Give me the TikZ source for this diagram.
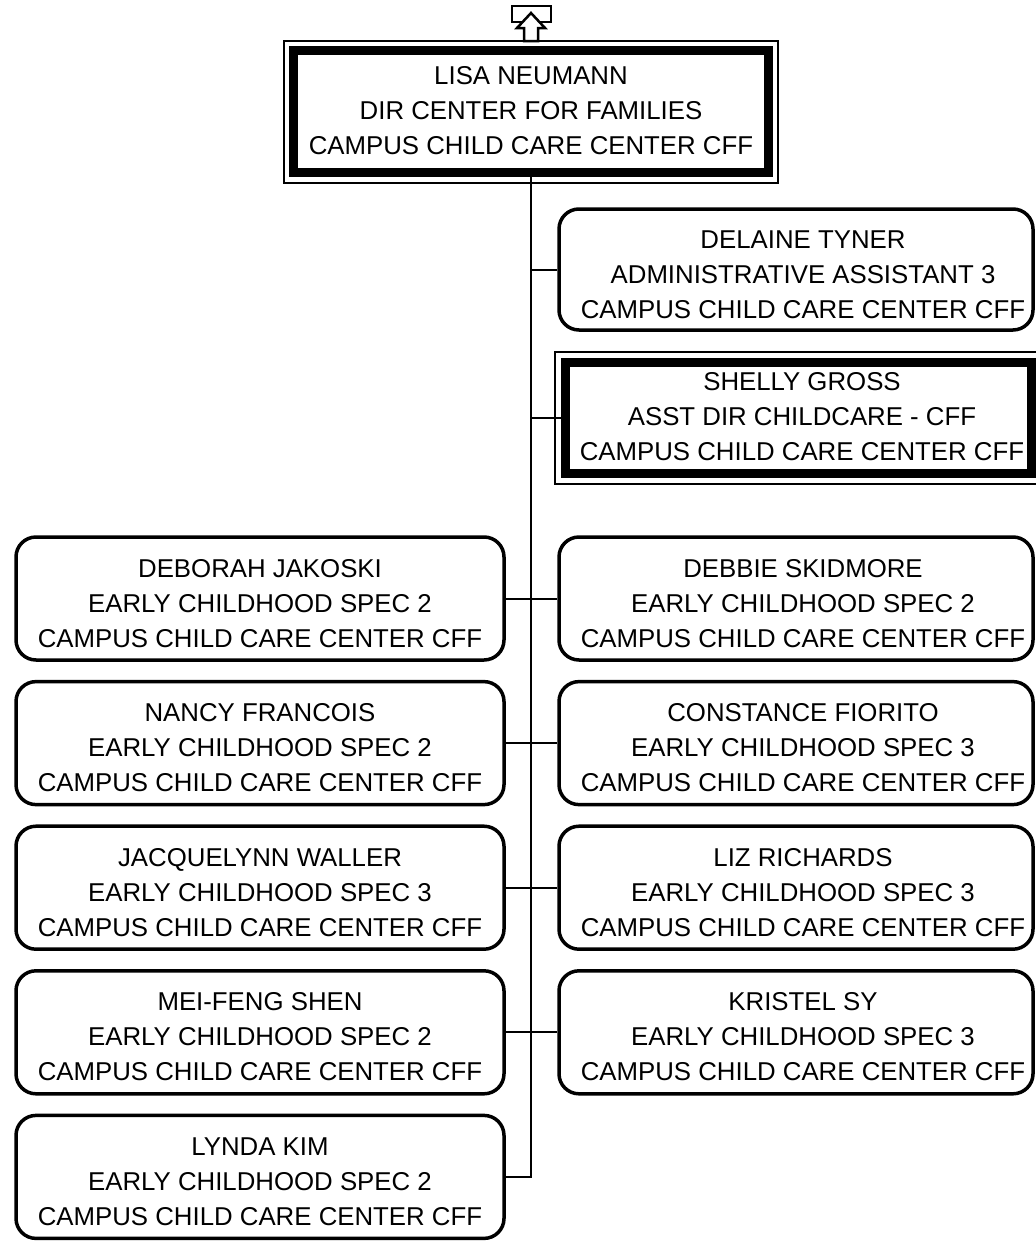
\documentclass[tikz,border=0pt]{standalone}
\usepackage{fontspec}
\setmainfont{Liberation Sans}
\newcommand{\staffont}{\fontsize{25.8}{35}\selectfont}
\newcommand{\staff}[3]{\begin{tabular}{@{}c@{}}#1\\#2\\#3\end{tabular}}
\newcommand{\cardtext}[3]{\raisebox{-6.5pt}[\height][\depth]{\staff{#1}{#2}{#3}}}

\tikzset{
  card/.style={draw, fill=white, line width=3.5pt, rounded corners=20pt,
    minimum width=488pt, minimum height=123pt, inner sep=0pt, font=\staffont},
  rcard/.style={card, minimum width=474pt},
  boss/.style={draw, fill=white, line width=9pt, inner sep=0pt, font=\staffont,
    preaction={draw, line width=22pt},
    preaction={draw=white, line width=18pt}},
  link/.style={line width=2pt},
}

\begin{document}
\begin{tikzpicture}[x=1pt, y=-1pt]
  \useasboundingbox (0,0) rectangle (1036,1245);
  \clip (0,0) rectangle (1036,1245);
  \def\lx{260}
  \def\rx{796}
  \def\dy{144.6}

  % --- Top: director ---
  \node[boss, minimum width=474.5pt, minimum height=122pt] (neumann) at (531,111.5)
    {\raisebox{-1pt}[\height][\depth]{\staff{LISA NEUMANN}{DIR CENTER FOR FAMILIES}{CAMPUS CHILD CARE CENTER CFF}}};

  % --- Up arrow above the director ---
  \draw[line width=2.5pt] (512,6) rectangle (551,22);
  \draw[line width=2.5pt, fill=white, line join=miter]
    (531,13) -- (545,28) -- (538,28) -- (538,41) -- (524,41) -- (524,28) -- (517,28) -- cycle;

  % --- Staff reporting on the right only ---
  \node[rcard, minimum height=121pt] (tyner) at (\rx,269.5)
    {\hspace*{14pt}\cardtext{DELAINE TYNER}{ADMINISTRATIVE ASSISTANT 3}{CAMPUS CHILD CARE CENTER CFF}};
  \node[boss, minimum width=466pt, minimum height=111.5pt] (gross) at (798,418)
    {\hspace*{8pt}\staff{SHELLY GROSS}{ASST DIR CHILDCARE - CFF}{CAMPUS CHILD CARE CENTER CFF}};

  % --- Early childhood staff, left column ---
  \node[card] (jakoski)  at (\lx,598.5)
    {\cardtext{DEBORAH JAKOSKI}{EARLY CHILDHOOD SPEC 2}{CAMPUS CHILD CARE CENTER CFF}};
  \node[card] (francois) at (\lx,598.5+\dy)
    {\cardtext{NANCY FRANCOIS}{EARLY CHILDHOOD SPEC 2}{CAMPUS CHILD CARE CENTER CFF}};
  \node[card] (waller)   at (\lx,598.5+2*\dy)
    {\cardtext{JACQUELYNN WALLER}{EARLY CHILDHOOD SPEC 3}{CAMPUS CHILD CARE CENTER CFF}};
  \node[card] (shen)     at (\lx,598.5+3*\dy)
    {\cardtext{MEI-FENG SHEN}{EARLY CHILDHOOD SPEC 2}{CAMPUS CHILD CARE CENTER CFF}};
  \node[card] (kim)      at (\lx,598.5+4*\dy)
    {\cardtext{LYNDA KIM}{EARLY CHILDHOOD SPEC 2}{CAMPUS CHILD CARE CENTER CFF}};

  % --- Early childhood staff, right column ---
  \node[rcard] (skidmore) at (\rx,598.5)
    {\hspace*{14pt}\cardtext{DEBBIE SKIDMORE}{EARLY CHILDHOOD SPEC 2}{CAMPUS CHILD CARE CENTER CFF}};
  \node[rcard] (fiorito)  at (\rx,598.5+\dy)
    {\hspace*{14pt}\cardtext{CONSTANCE FIORITO}{EARLY CHILDHOOD SPEC 3}{CAMPUS CHILD CARE CENTER CFF}};
  \node[rcard] (richards) at (\rx,598.5+2*\dy)
    {\hspace*{14pt}\cardtext{LIZ RICHARDS}{EARLY CHILDHOOD SPEC 3}{CAMPUS CHILD CARE CENTER CFF}};
  \node[rcard] (sy)       at (\rx,598.5+3*\dy)
    {\hspace*{14pt}\cardtext{KRISTEL SY}{EARLY CHILDHOOD SPEC 3}{CAMPUS CHILD CARE CENTER CFF}};

  % --- Connectors ---
  \draw[link] (neumann.south) -- (neumann.south |- kim.east) -- (kim.east);
  \draw[link] (tyner.west) -- (tyner.west -| neumann.south);
  \draw[link] (gross.west) -- (gross.west -| neumann.south);
  \foreach \l/\r in {jakoski/skidmore, francois/fiorito, waller/richards, shen/sy}
    \draw[link] (\l.east) -- (\r.west);
\end{tikzpicture}
\end{document}
